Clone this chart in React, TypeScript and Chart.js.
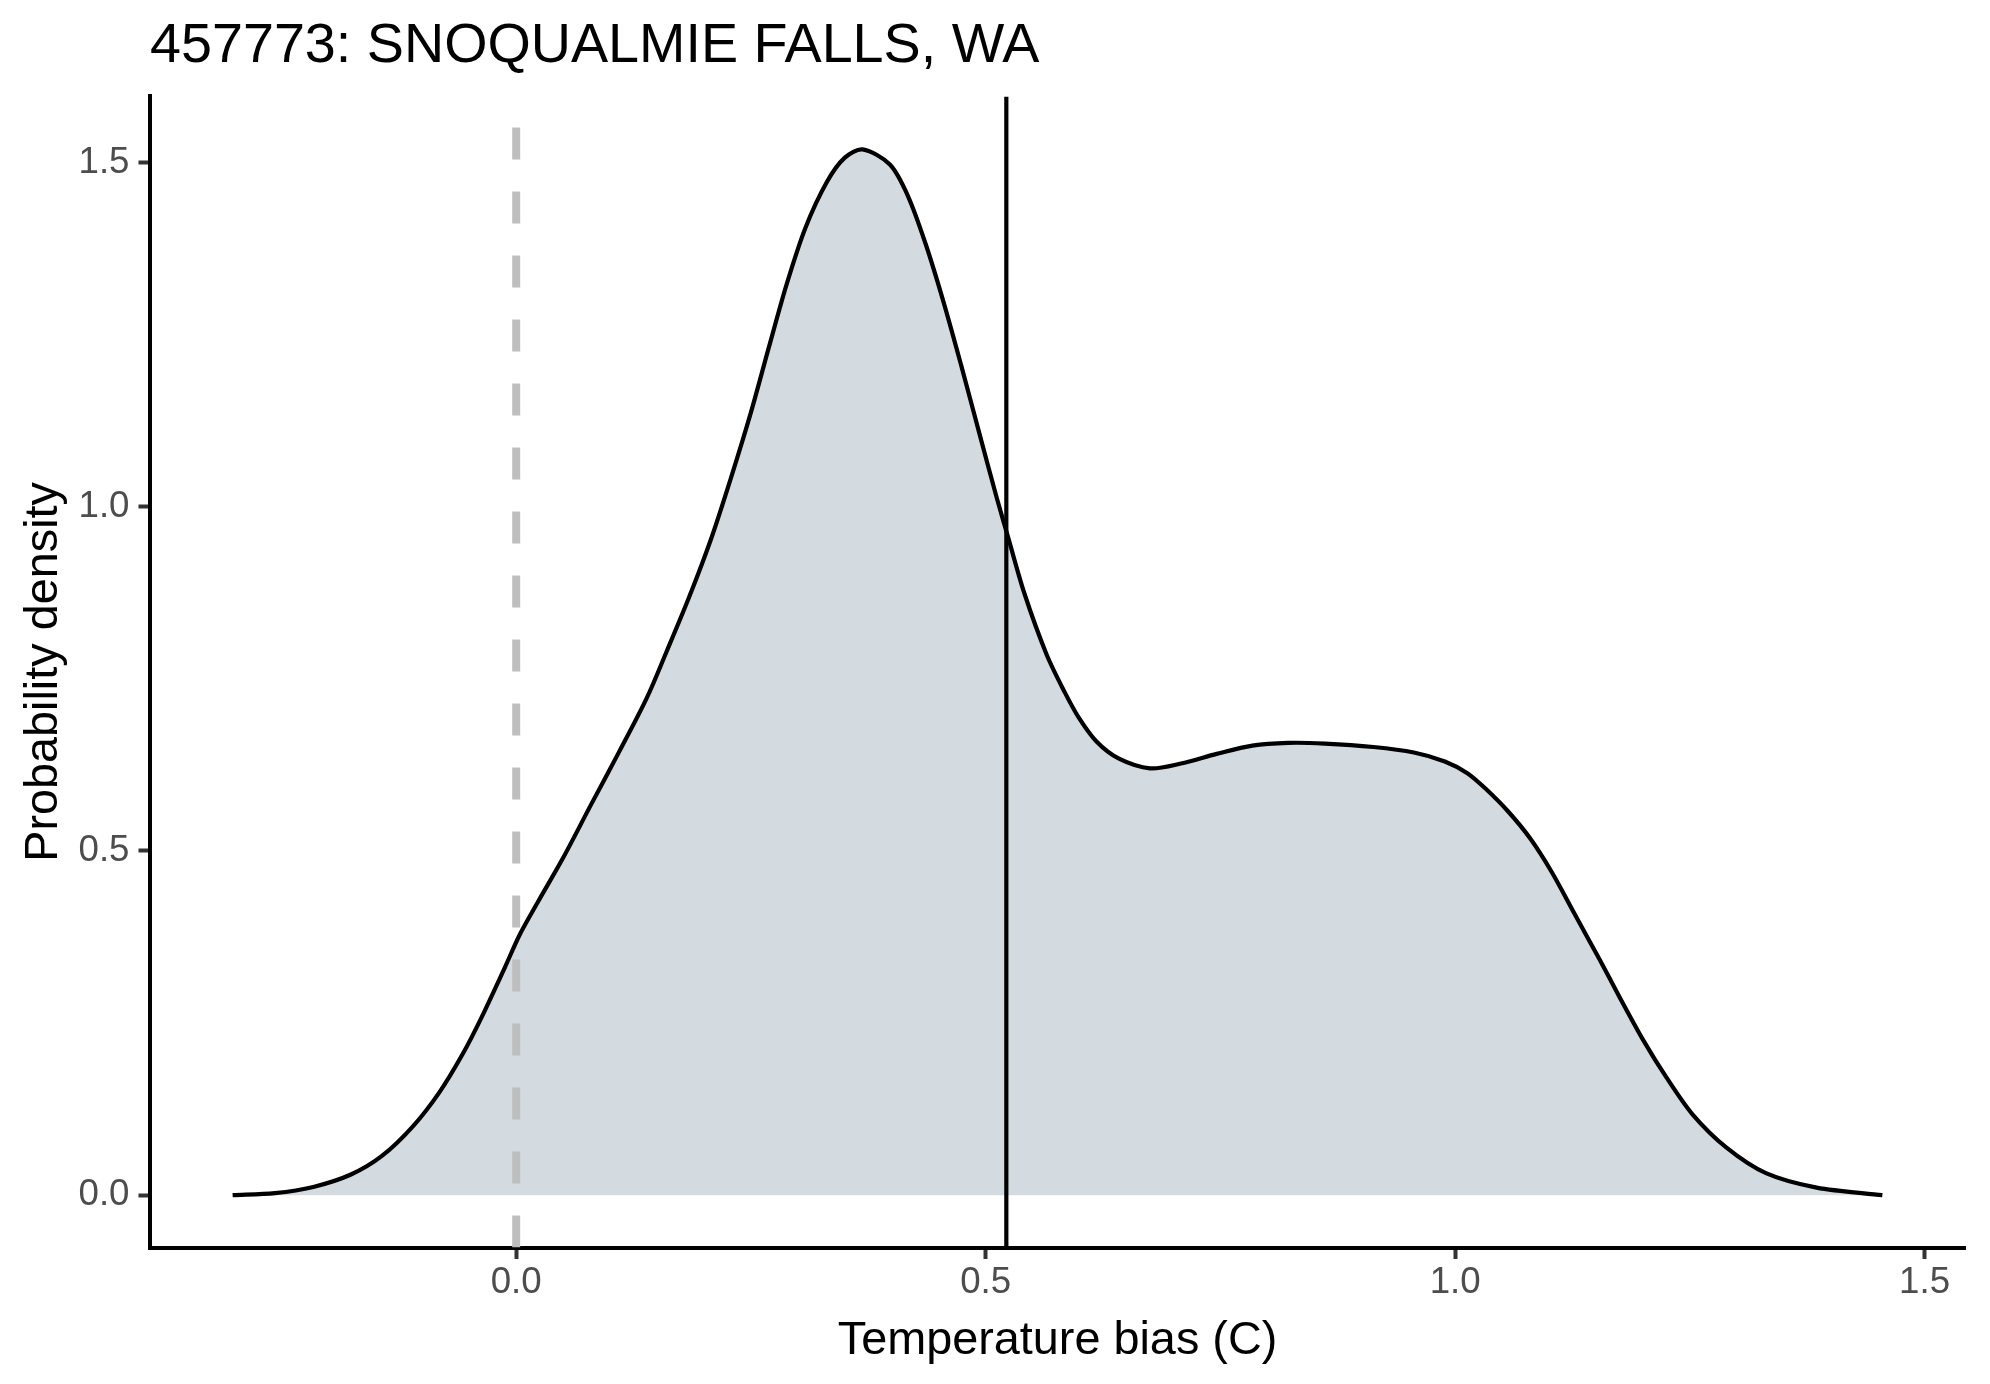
import React, { useEffect, useRef } from "react";
import { Chart, registerables } from "chart.js";

Chart.register(...registerables);

const chartTitle = "457773: SNOQUALMIE FALLS, WA";
const xAxisTitle = "Temperature bias (C)";
const yAxisTitle = "Probability density";

const densityX = [
  -0.302, -0.257, -0.216, -0.176, -0.143, -0.11, -0.082, -0.057, -0.037, -0.012,
  0.004, 0.024, 0.05, 0.08, 0.11, 0.139, 0.16, 0.184, 0.208, 0.229,
  0.25, 0.269, 0.288, 0.308, 0.331, 0.35, 0.369, 0.398, 0.417, 0.436,
  0.455, 0.474, 0.493, 0.512, 0.524, 0.541, 0.565, 0.584, 0.599, 0.618,
  0.642, 0.675, 0.708, 0.746, 0.784, 0.822, 0.861, 0.913, 0.956, 0.989,
  1.013, 1.032, 1.056, 1.08, 1.103, 1.127, 1.154, 1.175, 1.2, 1.225,
  1.253, 1.289, 1.331, 1.385, 1.455,
];
const densityY = [
  0.0, 0.003, 0.012, 0.03, 0.057, 0.1, 0.149, 0.205, 0.258, 0.331,
  0.379, 0.428, 0.49, 0.568, 0.645, 0.722, 0.789, 0.868, 0.955, 1.043,
  1.137, 1.231, 1.323, 1.405, 1.472, 1.507, 1.519, 1.497, 1.452, 1.382,
  1.298, 1.205, 1.108, 1.012, 0.955, 0.875, 0.785, 0.731, 0.694, 0.659,
  0.634, 0.62, 0.627, 0.641, 0.653, 0.657, 0.656, 0.651, 0.643, 0.63,
  0.613, 0.591, 0.558, 0.518, 0.469, 0.409, 0.342, 0.288, 0.226, 0.171,
  0.117, 0.069, 0.032, 0.011, 0.0,
];

const zeroBias = 0;
const meanBias = 0.522;

const xTicks = [0, 0.5, 1.0, 1.5];
const yTicks = [0, 0.5, 1.0, 1.5];
const xLimits = [-0.39, 1.543];
const yLimits = [-0.076, 1.596];

const FONT = "'Liberation Sans', Arial, sans-serif";

export default function App() {
  const canvasRef = useRef<HTMLCanvasElement | null>(null);

  useEffect(() => {
    const canvas = canvasRef.current;
    if (!canvas) return;
    const chart = new Chart(canvas, {
      type: "line",
      data: {
        datasets: [
          {
            label: "mean",
            data: [
              { x: meanBias, y: yLimits[0] },
              { x: meanBias, y: yLimits[1] },
            ],
            borderColor: "#000000",
            borderWidth: 4.2,
            pointRadius: 0,
            fill: false,
            tension: 0,
            order: 0,
          },
          {
            label: "zero",
            data: [
              { x: zeroBias, y: yLimits[0] },
              { x: zeroBias, y: yLimits[1] },
            ],
            borderColor: "#BEBEBE",
            borderWidth: 8,
            borderDash: [32, 32],
            borderCapStyle: "butt",
            pointRadius: 0,
            fill: false,
            tension: 0,
            order: 1,
          },
          {
            label: "density",
            data: densityX.map((x, i) => ({ x, y: densityY[i] })),
            borderColor: "#000000",
            borderWidth: 4.2,
            backgroundColor: "#D3DBE0",
            fill: "origin",
            pointRadius: 0,
            tension: 0.3,
            order: 2,
          },
        ],
      } as any,
      options: {
        animation: false,
        responsive: false,
        maintainAspectRatio: false,
        events: [],
        layout: { padding: { left: 0, right: 25, top: 0, bottom: 0 } },
        plugins: {
          legend: { display: false },
          tooltip: { enabled: false },
          title: {
            display: true,
            text: chartTitle,
            align: "start",
            fullSize: false,
            color: "#000000",
            font: { family: FONT, size: 55.7, weight: "normal", lineHeight: 1.2 },
            padding: { top: 13, bottom: 16.56 },
          },
        },
        scales: {
          x: {
            type: "linear",
            position: "bottom",
            min: xLimits[0],
            max: xLimits[1],
            z: 1,
            afterBuildTicks: (s: any) => {
              s.ticks = xTicks.map((v) => ({ value: v }));
            },
            afterFit: (s: any) => {
              s.height = 136.5;
            },
            grid: {
              display: true,
              drawOnChartArea: false,
              drawTicks: true,
              tickLength: 11.5,
              tickWidth: 4,
              tickColor: "#333333",
            },
            border: { display: true, color: "#000000", width: 4 },
            ticks: {
              color: "#4D4D4D",
              font: { family: FONT, size: 36.7, lineHeight: 1.2 },
              padding: 2,
              maxRotation: 0,
              autoSkip: false,
              callback: (v: any) => Number(v).toFixed(1),
            },
            title: {
              display: true,
              text: xAxisTitle,
              color: "#000000",
              font: { family: FONT, size: 46.8, lineHeight: 1.2 },
              padding: { top: 0, bottom: 14.5 },
            },
          },
          y: {
            type: "linear",
            position: "left",
            min: yLimits[0],
            max: yLimits[1],
            z: 1,
            afterBuildTicks: (s: any) => {
              s.ticks = yTicks.map((v) => ({ value: v }));
            },
            afterFit: (s: any) => {
              s.width = 150;
            },
            grid: {
              display: true,
              drawOnChartArea: false,
              drawTicks: true,
              tickLength: 11.5,
              tickWidth: 4,
              tickColor: "#333333",
            },
            border: { display: true, color: "#000000", width: 4 },
            ticks: {
              color: "#4D4D4D",
              font: { family: FONT, size: 36.7, lineHeight: 1.2 },
              padding: 9,
              autoSkip: false,
              callback: (v: any) => Number(v).toFixed(1),
            },
            title: {
              display: true,
              text: yAxisTitle,
              color: "#000000",
              font: { family: FONT, size: 46.8, lineHeight: 1.2 },
              padding: { top: 16, bottom: 0 },
            },
          },
        },
      } as any,
    });
    return () => chart.destroy();
  }, []);

  return (
    <div style={{ position: "absolute", left: 0, top: 0, width: 1990, height: 1384, background: "#ffffff" }}>
      <canvas
        ref={canvasRef}
        width={1990}
        height={1384}
        style={{ width: 1990, height: 1384, display: "block" }}
      />
    </div>
  );
}
